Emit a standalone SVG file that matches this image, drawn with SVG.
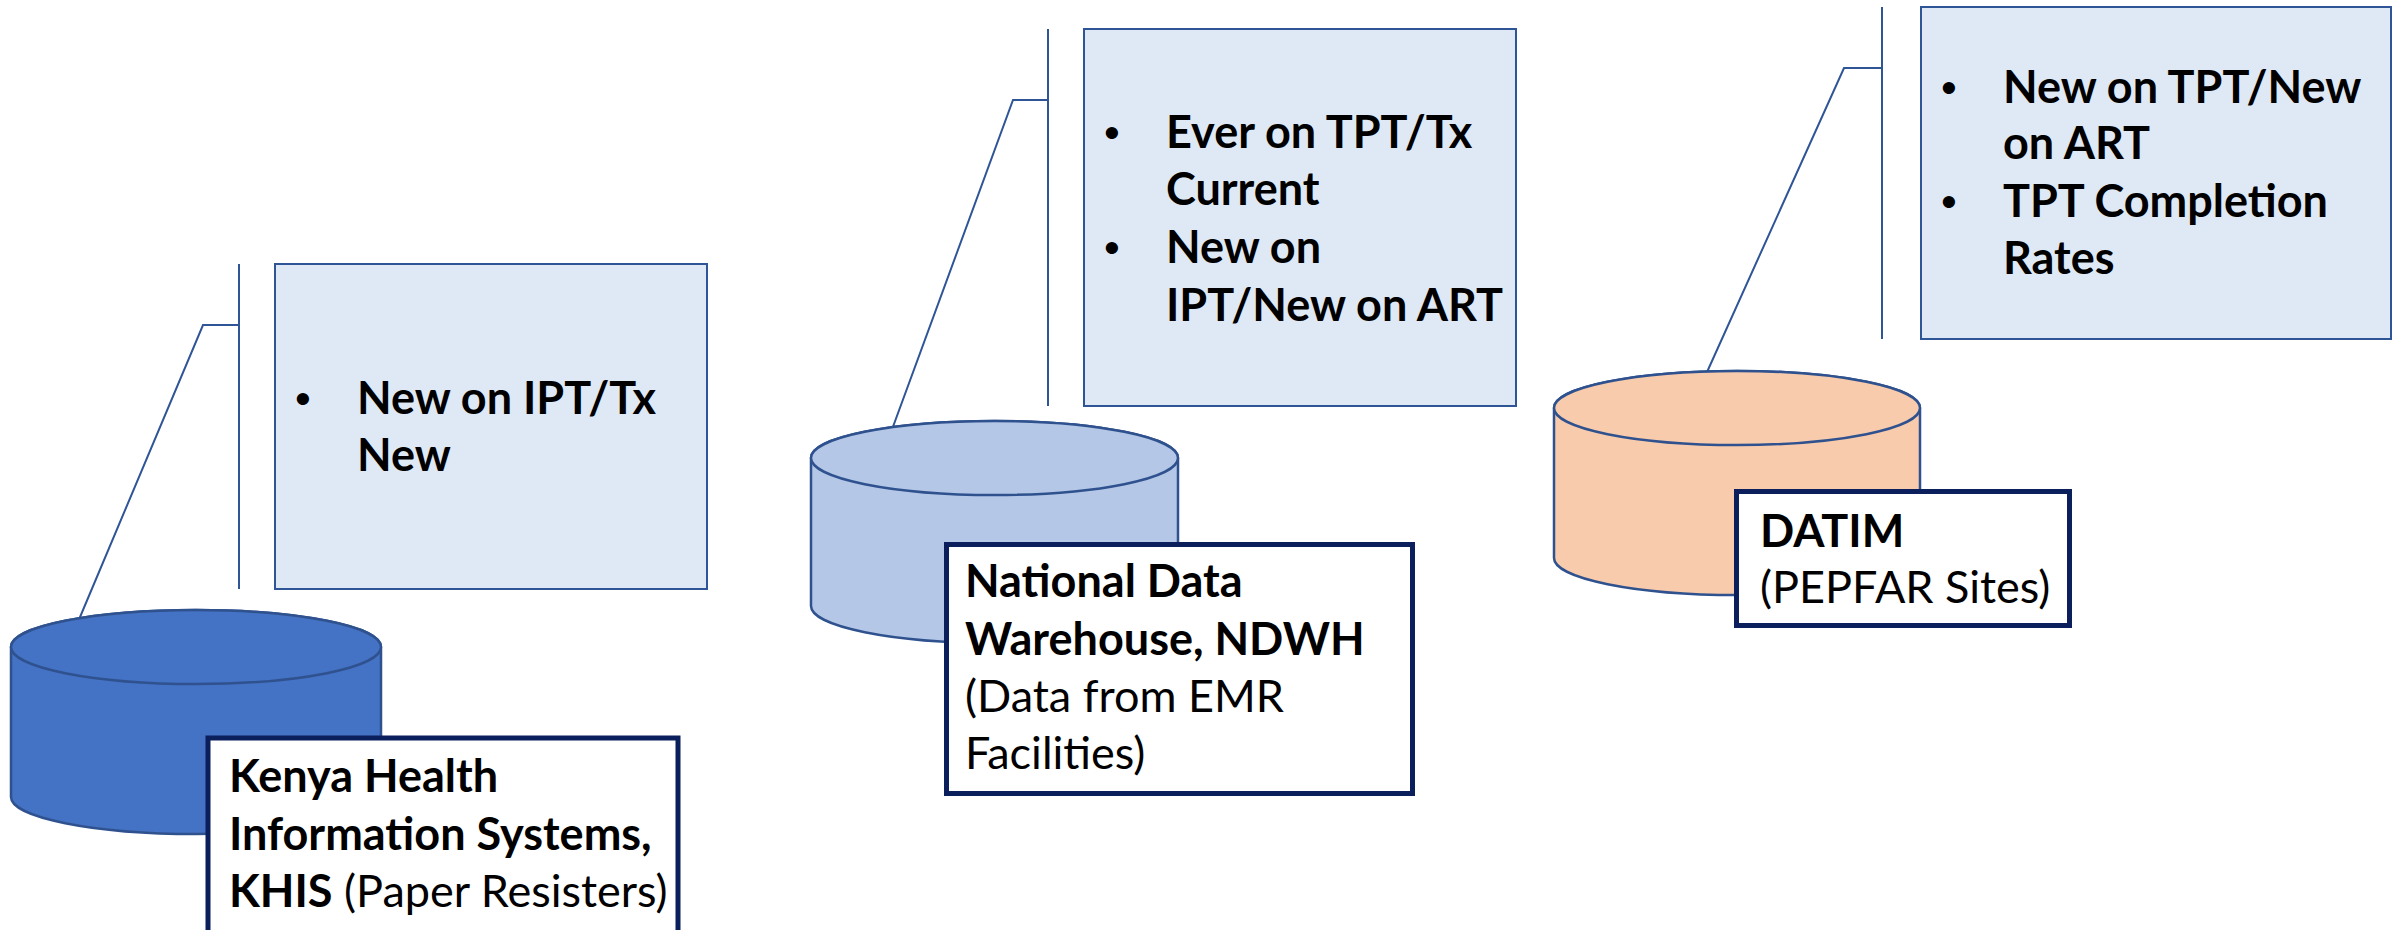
<svg xmlns="http://www.w3.org/2000/svg" width="2402" height="930" viewBox="0 0 2402 930">
<style>
.callout{fill:#dee9f5;stroke:#2f5597;stroke-width:2}
.lead{fill:none;stroke:#2f5597;stroke-width:2}
.label{fill:#ffffff;stroke:#0a1f5c;stroke-width:5}
.cyl{stroke:#2f528f;stroke-width:2.5}
.t{font-family:Lato,"Liberation Sans",sans-serif;font-size:45px;fill:#000}
.b{font-weight:bold}
.bul{font-family:"Liberation Sans",sans-serif;font-size:45px;text-anchor:middle}
</style>
<rect width="2402" height="930" fill="#ffffff"/>
<g id="connectors">
<line class="lead" x1="239" y1="264" x2="239" y2="589"/>
<polyline class="lead" points="239,325 203,325 75,629"/>
<line class="lead" x1="1048" y1="29" x2="1048" y2="406"/>
<polyline class="lead" points="1048,100 1013,100 883,454"/>
<line class="lead" x1="1882" y1="7" x2="1882" y2="339"/>
<polyline class="lead" points="1882,68 1844,68 1703,381"/>
</g>
<g id="khis-callout">
<rect class="callout" x="275" y="264" width="432" height="325"/>
<text class="bul" x="303" y="414">•</text>
<text class="t b" x="357" y="414">New on IPT/Tx</text>
<text class="t b" x="357" y="471">New</text>
</g>
<g id="ndwh-callout">
<rect class="callout" x="1084" y="29" width="432" height="377"/>
<text class="bul" x="1112" y="148">•</text>
<text class="t b" x="1166" y="148">Ever on TPT/Tx</text>
<text class="t b" x="1166" y="205">Current</text>
<text class="bul" x="1112" y="263">•</text>
<text class="t b" x="1166" y="263">New on</text>
<text class="t b" x="1166" y="321">IPT/New on ART</text>
</g>
<g id="datim-callout">
<rect class="callout" x="1921" y="7" width="470" height="332"/>
<text class="bul" x="1949" y="103">•</text>
<text class="t b" x="2003" y="103">New on TPT/New</text>
<text class="t b" x="2003" y="159">on ART</text>
<text class="bul" x="1949" y="217">•</text>
<text class="t b" x="2003" y="217">TPT Completion</text>
<text class="t b" x="2003" y="274">Rates</text>
</g>
<g id="khis">
<path class="cyl" fill="#4472c4" d="M11,647 L11,797 A185,37 0 0 0 381,797 L381,647 A185,37 0 0 0 11,647 Z"/>
<ellipse class="cyl" fill="#4472c4" cx="196" cy="647" rx="185" ry="37"/>
<rect class="label" x="208" y="738" width="470" height="215"/>
<text class="t b" x="229" y="792">Kenya Health</text>
<text class="t b" x="229" y="850">Information Systems,</text>
<text class="t" x="229" y="907"><tspan class="b">KHIS</tspan> (Paper Resisters)</text>
</g>
<g id="ndwh">
<path class="cyl" fill="#b4c7e7" d="M811,458 L811,606 A183.5,37 0 0 0 1178,606 L1178,458 A183.5,37 0 0 0 811,458 Z"/>
<ellipse class="cyl" fill="#b4c7e7" cx="994.5" cy="458" rx="183.5" ry="37"/>
<rect class="label" x="946.5" y="544.5" width="466" height="249"/>
<text class="t b" x="965" y="597">National Data</text>
<text class="t b" x="965" y="655">Warehouse, NDWH</text>
<text class="t" x="965" y="712">(Data from EMR</text>
<text class="t" x="965" y="769">Facilities)</text>
</g>
<g id="datim">
<path class="cyl" fill="#f8cbad" d="M1554,408 L1554,558 A183,37 0 0 0 1920,558 L1920,408 A183,37 0 0 0 1554,408 Z"/>
<ellipse class="cyl" fill="#f8cbad" cx="1737" cy="408" rx="183" ry="37"/>
<rect class="label" x="1736.5" y="491.5" width="333" height="134"/>
<text class="t b" x="1760" y="547">DATIM</text>
<text class="t" x="1760" y="603">(PEPFAR Sites)</text>
</g>
</svg>
